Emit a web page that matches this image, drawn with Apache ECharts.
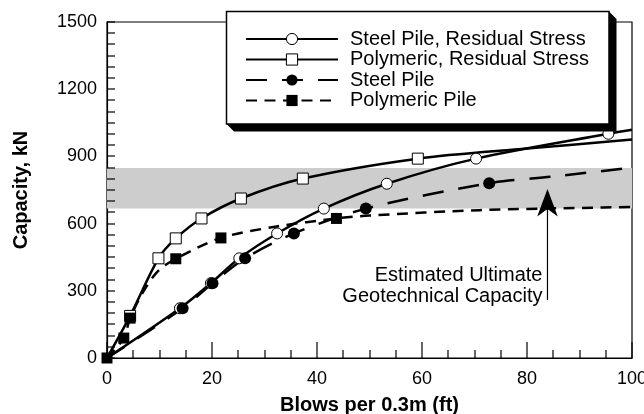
<!DOCTYPE html>
<html><head><meta charset="utf-8">
<script src="https://cdn.jsdelivr.net/npm/echarts@6/dist/echarts.min.js"></script>
<style>html,body{margin:0;padding:0;background:#fff}#c{width:644px;height:414px}</style>
</head><body><div id="c"></div>
<script>
// ---- data ----
const seriesNames = ['Steel Pile, Residual Stress', 'Polymeric, Residual Stress', 'Steel Pile', 'Polymeric Pile'];

const steelResX = [0, 13.9, 19.8, 25.2, 32.4, 41.3, 53.3, 70.3, 95.5, 100];
const steelResY = [0, 222, 334, 445, 556, 667, 778, 890, 1001, 1019];
const steelResMark = [0, 1, 1, 1, 1, 1, 1, 1, 1, 0];

const polyResX = [0, 4.4, 9.8, 13.1, 18.0, 25.5, 37.3, 59.2, 80, 100];
const polyResY = [0, 188, 445, 534, 623, 712, 801, 890, 935, 975];
const polyResMark = [0, 1, 1, 1, 1, 1, 1, 1, 0, 0];

const steelX = [0, 14.4, 20.1, 26.3, 35.6, 49.3, 72.8, 85, 100];
const steelY = [0, 222, 334, 445, 556, 667, 780, 810, 850];
const steelMark = [0, 1, 1, 1, 1, 1, 1, 0, 0];

const polyX = [0, 3.2, 4.4, 7.0, 9.8, 13.1, 21.7, 32.3, 43.7, 50, 71, 94.5, 100];
const polyY = [0, 89, 178, 300, 390, 443, 536, 587, 623, 636, 660, 672, 674];
const polyMark = [1, 1, 1, 0, 0, 1, 1, 0, 1, 0, 0, 0, 0];

const bandRange = [667, 848];          // estimated ultimate geotechnical capacity band (kN)
const arrowAnchor = {x: 83.9, tip: 754, bottom: 259};
const annotationText = 'Estimated Ultimate\nGeotechnical Capacity';

const xAxisRange = [0, 100], xInterval = 20, xMinorSplit = 4;
const yAxisRange = [0, 1500], yInterval = 300, yMinorSplit = 6;

// ---- chart ----
const W = 644, H = 414;
const GRID = {left: 107, right: 12, top: 22, bottom: 56};
const FONT = '"Liberation Sans", Arial, Helvetica, sans-serif';

// linear mapping matching the grid, used only to place annotation / tick graphics
const toPx = (x, y) => [
  GRID.left + (x - xAxisRange[0]) / (xAxisRange[1] - xAxisRange[0]) * (W - GRID.left - GRID.right),
  GRID.top + (1 - (y - yAxisRange[0]) / (yAxisRange[1] - yAxisRange[0])) * (H - GRID.top - GRID.bottom)
];

function build(xs, ys, marks) {
  return xs.map((x, i) => marks[i] ? [x, ys[i]] : {value: [x, ys[i]], symbol: 'none'});
}
const chart = echarts.init(document.getElementById('c'), null, {renderer: 'canvas'});

function lineSeries(name, data, symbol, hollow, dash) {
  return {
    name, type: 'line', data, smooth: 0.3, symbol, symbolSize: 11, showAllSymbol: true,
    itemStyle: hollow ? {color: '#fff', borderColor: '#000', borderWidth: 1}
                      : {color: '#000', borderColor: '#000', borderWidth: 0},
    lineStyle: {color: '#000', width: 2.5, type: dash, cap: 'butt'},
    emphasis: {disabled: true}
  };
}

const s1 = lineSeries(seriesNames[0], build(steelResX, steelResY, steelResMark), 'circle', true, 'solid');
s1.markArea = {
  silent: true,
  itemStyle: {color: '#cdcdcd'},
  data: [[{yAxis: bandRange[0]}, {yAxis: bandRange[1]}]]
};
const s2 = lineSeries(seriesNames[1], build(polyResX, polyResY, polyResMark), 'rect', true, 'solid');
const s3 = lineSeries(seriesNames[2], build(steelX, steelY, steelMark), 'circle', false, [21, 15]);
s3.symbolSize = 12;
const s4 = lineSeries(seriesNames[3], build(polyX, polyY, polyMark), 'rect', false, [11, 7.5]);

// inward tick marks derived from the axis ranges
const tickGraphics = [];
const xStep = xInterval / xMinorSplit;
for (let k = 0; xAxisRange[0] + k * xStep <= xAxisRange[1] + 1e-9; k++) {
  const v = xAxisRange[0] + k * xStep;
  const p = toPx(v, yAxisRange[0]);
  const len = (k % xMinorSplit === 0) ? 16 : 8;
  const px = Math.round(p[0]);
  tickGraphics.push({type: 'rect', z: 15, silent: true,
    shape: {x: px - 0.6, y: p[1] - len, width: 1.2, height: len}, style: {fill: '#000'}});
}
const yStep = yInterval / yMinorSplit;
for (let k = 0; yAxisRange[0] + k * yStep <= yAxisRange[1] + 1e-9; k++) {
  const v = yAxisRange[0] + k * yStep;
  const p = toPx(xAxisRange[0], v);
  const py = Math.round(p[1]);
  tickGraphics.push({type: 'rect', z: 15, silent: true,
    shape: {x: p[0], y: py - 0.6, width: 8, height: 1.2}, style: {fill: '#000'}});
}

const pTip = toPx(arrowAnchor.x, arrowAnchor.tip);
const pBot = toPx(arrowAnchor.x, arrowAnchor.bottom);
const ax = pTip[0], ty = pTip[1];

chart.setOption({
  animation: false,
  grid: {left: GRID.left, right: GRID.right, top: GRID.top, bottom: GRID.bottom,
         show: true, borderColor: '#000', borderWidth: 1.2, backgroundColor: 'rgba(0,0,0,0)',
         containLabel: false, outerBoundsMode: 'none'},
  xAxis: {
    type: 'value', min: xAxisRange[0], max: xAxisRange[1], interval: xInterval,
    name: 'Blows per 0.3m (ft)', nameLocation: 'middle', nameGap: 37,
    nameTextStyle: {fontFamily: FONT, fontSize: 20, fontWeight: 'bold', color: '#000'},
    axisLine: {show: true, lineStyle: {color: '#000', width: 1.2}},
    axisTick: {show: false}, minorTick: {show: false},
    splitLine: {show: false},
    axisLabel: {fontFamily: FONT, fontSize: 18, color: '#000', margin: 12, formatter: v => String(v)}
  },
  yAxis: {
    type: 'value', min: yAxisRange[0], max: yAxisRange[1], interval: yInterval,
    name: 'Capacity, kN', nameLocation: 'middle', nameGap: 76,
    nameTextStyle: {fontFamily: FONT, fontSize: 20, fontWeight: 'bold', color: '#000'},
    axisLine: {show: true, lineStyle: {color: '#000', width: 1.2}},
    axisTick: {show: false}, minorTick: {show: false},
    splitLine: {show: false},
    axisLabel: {fontFamily: FONT, fontSize: 18, color: '#000', margin: 10, formatter: v => String(v)}
  },
  legend: {
    orient: 'vertical', left: 245, top: 29, padding: 0, itemGap: 0.5,
    itemWidth: 92, itemHeight: 14, selectedMode: false, z: 20,
    textStyle: {fontFamily: FONT, fontSize: 20, color: '#000', lineHeight: 20, padding: [0, 0, 0, 7]},
    data: seriesNames.map((n, i) => ({name: n, itemStyle: i < 2 ? {borderWidth: 1} : {}}))
  },
  graphic: tickGraphics.concat([
    {type: 'polygon', z: 10, silent: true,
     shape: {points: [[609, 11.5], [616.5, 19], [616.5, 131.5], [234, 131.5], [226.5, 124]]},
     style: {fill: '#000'}},
    {type: 'rect', z: 11, silent: true,
     shape: {x: 226.5, y: 11.5, width: 382.5, height: 112.5},
     style: {fill: '#fff', stroke: '#000', lineWidth: 1.5}},
    {type: 'line', z: 6, silent: true,
     shape: {x1: ax, y1: ty + 18, x2: ax, y2: pBot[1]},
     style: {stroke: '#000', lineWidth: 1.2}},
    {type: 'polygon', z: 6, silent: true,
     shape: {points: [[ax, ty], [ax + 10.3, ty + 27.4], [ax, ty + 20], [ax - 10.3, ty + 27.4]]},
     style: {fill: '#000'}},
    {type: 'text', z: 6, silent: true,
     x: ax - 5, y: pBot[1] + 7,
     style: {text: annotationText, fontFamily: FONT, fontSize: 20, fill: '#000',
             align: 'right', textAlign: 'right', verticalAlign: 'bottom', textVerticalAlign: 'bottom', lineHeight: 21}}
  ]),
  series: [s1, s2, s3, s4]
});
</script>
</body></html>
